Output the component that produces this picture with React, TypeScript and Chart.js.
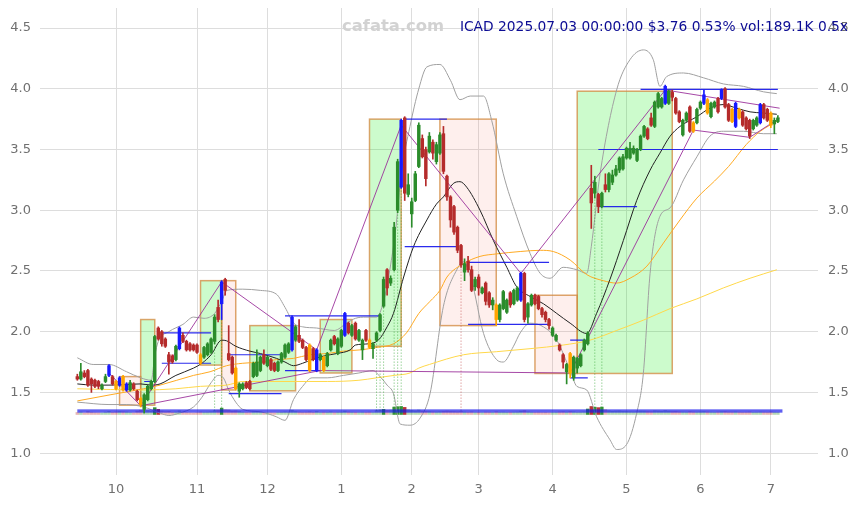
import React, { useEffect, useRef } from 'react';
import { Chart, registerables } from 'chart.js';
Chart.register(...registerables);

// ---- daily candles (index 0 = 2024-09-16 ... 199 = 2025-07-03) ----
const open = [
  1.63,1.61,1.66,1.68,1.61,1.60,1.59,1.53,1.59,1.64,
  1.63,1.59,1.56,1.63,1.52,1.52,1.57,1.51,1.45,1.36,
  1.44,1.53,1.59,2.03,2.00,1.94,1.81,1.80,1.77,1.86,
  1.97,1.92,1.90,1.89,1.89,1.81,1.79,1.81,1.83,1.92,
  2.20,2.23,2.43,1.82,1.79,1.70,1.51,1.53,1.58,1.59,
  1.63,1.64,1.68,1.81,1.72,1.77,1.74,1.68,1.75,1.79,
  1.83,1.85,1.93,1.97,1.93,1.87,1.89,1.86,1.68,1.77,
  1.79,1.72,1.85,1.96,1.82,1.88,1.97,2.07,1.97,2.07,
  1.93,1.85,2.01,1.93,1.86,1.93,2.01,2.21,2.51,2.40,
  2.51,3.00,3.19,3.76,3.13,2.97,3.08,3.36,3.59,3.50,
  3.48,3.56,3.40,3.47,3.63,3.28,3.11,3.03,2.86,2.71,
  2.49,2.58,2.51,2.37,2.45,2.32,2.40,2.32,2.22,2.22,
  2.10,2.19,2.16,2.32,2.23,2.26,2.26,2.48,2.12,2.22,
  2.30,2.29,2.19,2.16,2.10,1.97,1.93,1.89,1.81,1.67,
  1.82,1.62,1.70,1.72,1.85,1.90,3.18,3.14,3.13,3.03,
  3.21,3.17,3.23,3.29,3.33,3.34,3.43,3.43,3.47,3.41,
  3.50,3.61,3.67,3.76,3.69,3.85,3.85,3.88,3.88,3.97,
  3.92,3.81,3.62,3.74,3.85,3.72,3.72,3.84,3.88,3.91,
  3.77,3.85,3.92,3.92,4.00,3.87,3.83,3.69,3.83,3.81,
  3.76,3.74,3.67,3.70,3.72,3.87,3.83,3.80,3.71,3.73,
];
const close = [
  1.61,1.67,1.63,1.56,1.57,1.55,1.55,1.56,1.63,1.72,
  1.57,1.53,1.62,1.52,1.57,1.58,1.53,1.44,1.40,1.48,
  1.55,1.59,1.96,1.94,1.90,1.88,1.75,1.75,1.88,2.03,
  1.92,1.85,1.85,1.85,1.83,1.74,1.87,1.90,1.94,2.12,
  2.10,2.41,2.34,1.77,1.66,1.53,1.57,1.57,1.54,1.53,
  1.74,1.75,1.79,1.74,1.79,1.69,1.68,1.75,1.82,1.89,
  1.90,2.12,2.04,1.92,1.87,1.77,1.68,1.77,1.85,1.81,
  1.68,1.82,1.93,1.90,1.94,2.01,2.15,1.99,2.05,1.94,
  2.01,1.93,1.93,1.87,1.90,1.99,2.14,2.43,2.36,2.44,
  2.86,3.40,3.74,3.14,3.21,3.07,3.30,3.70,3.44,3.26,
  3.61,3.47,3.54,3.62,3.32,3.11,2.92,2.82,2.67,2.55,
  2.56,2.51,2.34,2.43,2.36,2.36,2.25,2.22,2.26,2.10,
  2.22,2.33,2.26,2.22,2.34,2.36,2.48,2.10,2.23,2.30,
  2.23,2.19,2.14,2.10,2.05,2.03,1.97,1.85,1.75,1.73,
  1.66,1.79,1.78,1.81,1.93,1.99,3.06,3.23,3.03,3.14,
  3.17,3.30,3.29,3.34,3.43,3.44,3.51,3.51,3.51,3.50,
  3.61,3.69,3.59,3.70,3.89,3.96,3.92,4.02,3.98,3.93,
  3.80,3.73,3.74,3.80,3.65,3.65,3.83,3.89,3.95,3.80,
  3.88,3.89,3.81,3.99,3.85,3.74,3.73,3.88,3.76,3.70,
  3.67,3.61,3.74,3.76,3.87,3.76,3.74,3.70,3.74,3.76,
];
const high = [
  1.65,1.74,1.68,1.69,1.62,1.61,1.60,1.57,1.65,1.73,
  1.64,1.60,1.63,1.64,1.58,1.60,1.58,1.52,1.46,1.49,
  1.56,1.60,1.97,2.04,2.01,1.95,1.83,1.81,1.89,2.04,
  1.99,1.93,1.91,1.90,1.90,1.82,1.88,1.91,1.95,2.14,
  2.26,2.42,2.44,2.05,1.80,1.71,1.58,1.58,1.59,1.60,
  1.75,1.85,1.80,1.85,1.80,1.78,1.75,1.76,1.83,1.90,
  1.91,2.13,2.05,2.10,1.94,1.88,1.90,1.87,1.86,1.82,
  1.80,1.83,1.94,1.97,1.95,2.02,2.16,2.08,2.06,2.08,
  2.02,1.94,2.02,1.94,1.91,2.00,2.15,2.45,2.52,2.46,
  2.90,3.42,3.75,3.77,3.30,3.10,3.32,3.72,3.62,3.52,
  3.64,3.58,3.56,3.64,3.69,3.29,3.12,3.04,2.87,2.72,
  2.60,2.62,2.54,2.45,2.47,2.37,2.41,2.33,2.28,2.23,
  2.23,2.34,2.27,2.33,2.35,2.37,2.49,2.49,2.24,2.31,
  2.31,2.30,2.20,2.17,2.11,2.04,1.98,1.90,1.82,1.74,
  1.83,1.80,1.79,1.82,1.94,2.00,3.37,3.28,3.14,3.15,
  3.30,3.31,3.33,3.37,3.44,3.46,3.52,3.56,3.53,3.51,
  3.62,3.70,3.68,3.80,3.90,3.97,3.93,4.03,3.99,3.99,
  3.93,3.82,3.75,3.81,3.86,3.73,3.84,3.90,3.99,3.92,
  3.89,3.90,3.93,4.00,4.01,3.88,3.84,3.89,3.84,3.82,
  3.77,3.75,3.75,3.77,3.88,3.88,3.84,3.81,3.76,3.78,
];
const low = [
  1.60,1.60,1.62,1.55,1.50,1.54,1.53,1.52,1.58,1.63,
  1.56,1.52,1.55,1.51,1.51,1.51,1.52,1.43,1.38,1.33,
  1.43,1.52,1.58,1.93,1.88,1.87,1.65,1.74,1.76,1.85,
  1.91,1.84,1.84,1.84,1.82,1.73,1.78,1.80,1.82,1.90,
  2.08,2.10,2.30,1.76,1.65,1.52,1.46,1.52,1.53,1.52,
  1.62,1.63,1.67,1.73,1.71,1.68,1.67,1.67,1.74,1.78,
  1.82,1.84,1.92,1.91,1.86,1.76,1.67,1.76,1.67,1.76,
  1.67,1.71,1.84,1.89,1.81,1.87,1.96,1.98,1.96,1.93,
  1.92,1.77,1.92,1.86,1.78,1.92,2.00,2.20,2.30,2.38,
  2.50,2.98,3.18,3.08,3.11,2.86,3.07,3.35,3.43,3.20,
  3.47,3.42,3.38,3.46,3.30,3.08,2.86,2.80,2.65,2.53,
  2.42,2.49,2.33,2.34,2.30,2.31,2.22,2.20,2.18,2.05,
  2.08,2.18,2.15,2.20,2.22,2.25,2.25,2.08,2.07,2.21,
  2.22,2.18,2.12,2.08,2.02,1.96,1.92,1.84,1.70,1.57,
  1.62,1.60,1.66,1.71,1.84,1.89,2.85,3.10,2.98,3.02,
  3.15,3.15,3.21,3.28,3.31,3.33,3.42,3.42,3.46,3.40,
  3.49,3.60,3.58,3.69,3.68,3.84,3.84,3.87,3.87,3.90,
  3.79,3.72,3.61,3.73,3.64,3.64,3.71,3.83,3.87,3.79,
  3.76,3.84,3.80,3.91,3.84,3.73,3.72,3.68,3.75,3.69,
  3.66,3.59,3.66,3.69,3.71,3.75,3.73,3.68,3.63,3.72,
];
// volume in thousands of shares
const volume = [
  180,220,150,260,200,170,160,150,210,280,
  200,230,260,240,220,180,160,300,380,420,
  350,300,600,450,300,250,280,200,220,320,
  200,180,160,150,170,220,200,210,240,350,
  380,560,420,400,300,320,260,200,180,170,
  220,240,200,190,180,170,160,180,200,230,
  210,380,260,220,200,210,240,200,260,180,
  200,190,230,180,200,210,300,220,200,190,
  180,200,190,210,180,380,420,450,380,400,
  650,680,700,620,420,360,320,400,300,280,
  260,240,230,250,280,300,270,260,240,280,
  220,200,230,180,190,170,210,200,180,240,
  200,210,190,200,210,220,300,340,230,200,
  190,200,180,190,170,180,200,230,250,220,
  260,240,200,210,230,480,700,640,600,650,
  420,320,280,300,310,280,270,250,240,260,
  300,290,260,250,320,300,280,340,290,260,
  280,240,230,220,260,230,220,240,260,230,
  210,200,220,250,260,230,220,240,210,200,
  210,230,190,200,220,210,200,230,200,189,
];
// signal candles
const blueIdx = [9,12,14,29,41,61,68,76,92,126,167,178,183,187,194];
const orangeIdx = [11,13,18,35,45,66,70,83,119,140,175,179,186,188,197];
const sigUpIdx = [39,41,85,86,87,90,91,92,147,149];
const sigDownIdx = [109];

// axis ticks
const monthTickIdx = [11,34,54,75,95,114,135,156,177,197];
const monthLabels = ['10','11','12','1','2','3','4','5','6','7'];
const priceTicks = [1.0,1.5,2.0,2.5,3.0,3.5,4.0,4.5];

// indicator lines: [index, value]
const sma20: [number, number][] = [[0,1.57],[4.5,1.56],[9,1.56],[14,1.565],[18,1.57],[21,1.56],[23.5,1.57],[28,1.64],[33,1.70],[35.4,1.74],[38,1.81],[41,1.93],[42.4,1.925],[45,1.88],[49,1.84],[52,1.82],[56.6,1.78],[59,1.75],[61.4,1.72],[64,1.74],[66.7,1.77],[70,1.80],[73.7,1.82],[77.5,1.85],[79,1.89],[82.7,1.90],[85.5,1.93],[88,2.04],[89.8,2.15],[92.7,2.45],[95.5,2.70],[99.3,2.92],[102,3.05],[104,3.11],[106.8,3.22],[108.7,3.235],[110.6,3.19],[114.4,3.00],[118.2,2.75],[122,2.53],[124.8,2.37],[128.6,2.29],[132.4,2.23],[136.2,2.15],[140,2.07],[144.7,1.985],[147.5,2.15],[151.3,2.43],[155.1,2.75],[158.9,3.08],[162.7,3.33],[165.5,3.47],[168.4,3.61],[171.2,3.69],[176,3.77],[179.7,3.84],[183.5,3.87],[187.3,3.84],[191.1,3.81],[194.9,3.80],[198.7,3.79]];
const sma50: [number, number][] = [[0,1.43],[9.3,1.48],[18.8,1.53],[23.5,1.56],[33,1.64],[37.7,1.67],[42.4,1.72],[47,1.74],[52,1.75],[56.6,1.77],[61.4,1.78],[66,1.81],[71,1.82],[75.6,1.84],[80.3,1.85],[85,1.87],[89.8,1.90],[93.5,1.99],[97,2.15],[100.2,2.25],[103,2.34],[105,2.45],[109.7,2.56],[114.4,2.62],[119,2.64],[125.8,2.66],[131.5,2.67],[135.2,2.66],[140,2.59],[144.7,2.47],[149.4,2.42],[153.2,2.40],[157,2.44],[161.8,2.54],[166.5,2.73],[171.2,2.92],[176,3.10],[181,3.24],[185,3.36],[190,3.54],[194,3.65],[198.7,3.73]];
const sma100: [number, number][] = [[0,1.53],[18.8,1.52],[28,1.53],[35,1.55],[42.4,1.56],[47,1.59],[52,1.59],[61,1.59],[71,1.59],[80,1.60],[85,1.62],[90,1.64],[94.5,1.66],[97,1.70],[100,1.73],[109.7,1.81],[119,1.835],[128.6,1.86],[138,1.89],[145.6,1.93],[153.2,2.01],[160.8,2.095],[168.4,2.19],[176,2.27],[183.5,2.36],[191.1,2.44],[198.7,2.51]];
const bbUpper: [number, number][] = [[0,1.785],[4.5,1.73],[9,1.73],[14,1.67],[18,1.62],[21,1.60],[22,1.80],[23,1.92],[26,2.0],[30,2.06],[33,2.12],[36,2.11],[39,2.15],[41,2.25],[42.5,2.34],[47,2.35],[52,2.34],[56.5,2.31],[59,2.20],[61.5,2.07],[64,2.04],[68,2.03],[73,2.01],[76.5,2.07],[79,2.11],[82,2.12],[85,2.12],[87,2.25],[89,2.55],[90.5,2.86],[92,3.3],[94.5,3.69],[97,4.0],[99.3,4.18],[103,4.20],[106,4.07],[108.7,3.91],[111.6,3.94],[115.4,3.94],[117.7,3.74],[121,3.30],[124.8,2.95],[128.6,2.645],[131.5,2.48],[134.3,2.44],[138,2.53],[141.9,2.51],[144.7,2.48],[146,2.7],[148.5,3.30],[153.2,3.99],[157,4.24],[160.8,4.32],[163.6,4.24],[165.5,4.02],[167.4,4.10],[172.2,4.13],[177.9,4.09],[183.5,4.04],[189.2,4.02],[194.9,3.975],[198.7,3.96]];
const bbLower: [number, number][] = [[0,1.42],[9,1.40],[14,1.40],[18.8,1.38],[23.5,1.33],[26,1.31],[29,1.33],[33,1.38],[35.4,1.46],[38,1.58],[40,1.64],[41.5,1.62],[43,1.52],[45,1.42],[47,1.36],[52,1.34],[56.5,1.30],[59,1.27],[61.4,1.44],[64,1.55],[66.7,1.62],[71,1.62],[75.6,1.64],[80,1.66],[84,1.68],[86,1.63],[88,1.56],[89.8,1.49],[91.7,1.24],[94.5,1.23],[97.4,1.29],[100.2,1.49],[104,2.21],[107.8,2.51],[109.7,2.575],[112,2.42],[115.4,1.985],[119.1,1.77],[121,1.75],[123.9,1.88],[125.8,1.99],[128.6,2.07],[132.4,2.04],[136.2,1.93],[140,1.68],[141.9,1.55],[144.7,1.52],[147.5,1.30],[151.3,1.11],[153.2,1.03],[156,1.07],[158.9,1.33],[160.8,1.66],[162.7,2.48],[165.5,2.95],[168.4,3.02],[172.2,3.25],[176,3.44],[179.7,3.61],[183.5,3.65],[189.2,3.65],[194.9,3.63],[198.7,3.63]];

// purple trend / zigzag lines
const zigMain: [number, number][] = [[9,1.66],[18,1.39],[41,2.41],[68,1.85],[92,3.70],[126,2.48],[167,3.99]];
const zigLow: [number, number][] = [[18,1.39],[69,1.68],[140,1.66],[175,3.66],[191,3.60],[199.5,3.76]];
const zigTop: [number, number][] = [[167,3.99],[199.5,3.84]];

// support / resistance segments
const levelStart = [19,24,24,43,43,59,59,93,93,111,111,140,140,148,148,160,0,0];
const levelEnd   = [22,38,38,58,58,86,69,105,108,134,134,145,145,159,199,199,200.3,200.3];
const levelValue = [1.59,1.99,1.74,1.81,1.49,2.13,1.68,3.75,2.70,2.57,2.06,1.93,1.62,3.03,3.50,3.995,1.354,1.340];

// boxes
const boxStart  = [12,18,35,41,49,69,83,103,130,142];
const boxEnd    = [18,22,41,45,62,78,92,119,142,169];
const boxTop    = [1.63,2.10,2.42,2.42,2.05,2.10,3.75,3.75,2.30,3.98];
const boxBottom = [1.395,1.395,1.725,1.52,1.513,1.66,1.88,2.05,1.656,1.656];
const boxKind   = ['down','up','up','down','up','up','up','down','down','up'];

const titleText = 'ICAD 2025.07.03 00:00:00 $3.76 0.53% vol:189.1K 0.5x';
const watermark = 'cafata.com';

const FONT = '"DejaVu Sans", "Noto Sans", sans-serif';

export default function App() {
  const ref = useRef<HTMLCanvasElement>(null);
  useEffect(() => {
    document.body.style.margin = '0';
    const canvas = ref.current;
    if (!canvas) return;
    const blueSet = new Set(blueIdx);
    const orangeSet = new Set(orangeIdx);
    const colorOf = (i: number) =>
      blueSet.has(i) ? '#1818ff' : orangeSet.has(i) ? '#ffa500' : close[i] >= open[i] ? '#2b8c2b' : '#b52b2b';
    const idx = open.map((_, i) => i);
    const toXY = (pts: [number, number][]) => pts.map(([x, y]) => ({ x, y }));
    const segs: any[] = [];
    levelStart.forEach((s, k) => {
      segs.push({ x: s, y: levelValue[k] }, { x: levelEnd[k], y: levelValue[k] }, { x: levelEnd[k], y: null });
    });
    const dots = (list: number[]) => {
      const out: any[] = [];
      list.forEach((i) => out.push({ x: i, y: 1.35 }, { x: i, y: low[i] }, { x: i, y: null }));
      return out;
    };
    const lineDs = (label: string, pts: [number, number][], color: string, order: number, smooth = true) => ({
      type: 'line' as const, label, data: toXY(pts), borderColor: color, borderWidth: 1,
      pointRadius: 0, fill: false, order, cubicInterpolationMode: smooth ? 'monotone' : 'default', tension: 0,
    });
    const fitV = (axis: any) => { axis.width = 40; axis.paddingTop = 0; axis.paddingBottom = 0; };

    const overlay = {
      id: 'overlay',
      beforeDatasetsDraw(chart: any) {
        const { ctx, scales } = chart;
        const xs = scales.x, ys = scales.y;
        ctx.save();
        boxStart.forEach((s, k) => {
          const x0 = xs.getPixelForValue(s), x1 = xs.getPixelForValue(boxEnd[k]);
          const y0 = ys.getPixelForValue(boxTop[k]), y1 = ys.getPixelForValue(boxBottom[k]);
          ctx.fillStyle = boxKind[k] === 'up' ? 'rgba(0,235,0,0.2)' : 'rgba(240,80,60,0.09)';
          ctx.fillRect(x0, y0, x1 - x0, y1 - y0);
          ctx.strokeStyle = 'rgba(210,135,60,0.75)';
          ctx.lineWidth = 1.5;
          ctx.strokeRect(x0, y0, x1 - x0, y1 - y0);
        });
        ctx.font = 'bold 16.4px ' + FONT;
        ctx.fillStyle = '#d2d2d2';
        ctx.textAlign = 'left';
        ctx.textBaseline = 'alphabetic';
        ctx.fillText(watermark, 342, 31);
        ctx.restore();
      },
      afterDraw(chart: any) {
        const ctx = chart.ctx;
        ctx.save();
        ctx.font = '13.8px ' + FONT;
        ctx.fillStyle = '#0c0c94';
        ctx.textAlign = 'right';
        ctx.textBaseline = 'alphabetic';
        ctx.fillText(titleText, 848, 31);
        ctx.restore();
      },
    };

    const chart = new Chart(canvas, {
      type: 'line',
      data: {
        datasets: [
          {
            type: 'bar', label: 'body',
            data: idx.map((i) => ({ x: i, y: [open[i], close[i]] })) as any,
            backgroundColor: idx.map(colorOf), borderWidth: 0, barThickness: 2.8, grouped: false, order: 1,
          } as any,
          {
            type: 'bar', label: 'wick',
            data: idx.map((i) => ({ x: i, y: [low[i], high[i]] })) as any,
            backgroundColor: idx.map(colorOf), borderWidth: 0, barThickness: 1, grouped: false, order: 2,
          } as any,
          {
            type: 'line', label: 'zigMain', data: toXY(zigMain), borderColor: 'rgba(150,40,150,0.85)', borderWidth: 1, pointRadius: 0, order: 3,
          },
          {
            type: 'line', label: 'zigLow', data: toXY(zigLow), borderColor: 'rgba(150,40,150,0.85)', borderWidth: 1, pointRadius: 0, order: 3,
          },
          {
            type: 'line', label: 'zigTop', data: toXY(zigTop), borderColor: 'rgba(150,40,150,0.85)', borderWidth: 1, pointRadius: 0, order: 3,
          },
          {
            type: 'line', label: 'levels', data: segs, borderColor: 'rgba(20,20,235,0.9)', borderWidth: 1.2, pointRadius: 0, spanGaps: false, order: 4,
          },
          {
            type: 'line', label: 'sigUp', data: dots(sigUpIdx), borderColor: 'rgba(40,160,40,0.7)', borderWidth: 1, borderDash: [1, 2], pointRadius: 0, spanGaps: false, order: 4,
          },
          {
            type: 'line', label: 'sigDown', data: dots(sigDownIdx), borderColor: 'rgba(190,60,60,0.7)', borderWidth: 1, borderDash: [1, 2], pointRadius: 0, spanGaps: false, order: 4,
          },
          lineDs('sma20', sma20, '#222222', 5),
          lineDs('sma50', sma50, '#ffaa22', 6),
          lineDs('sma100', sma100, '#ffd84a', 6),
          lineDs('bbUpper', bbUpper, '#a0a0a0', 6),
          lineDs('bbLower', bbLower, '#a0a0a0', 6),
          {
            type: 'bar', label: 'volume', yAxisID: 'yv',
            data: idx.map((i) => ({ x: i, y: volume[i] })) as any,
            backgroundColor: idx.map((i) => {
              const up = close[i] >= open[i];
              const strong = volume[i] >= 450;
              return up ? (strong ? 'rgba(43,140,43,0.95)' : 'rgba(43,140,43,0.35)') : (strong ? 'rgba(181,43,43,0.95)' : 'rgba(181,43,43,0.35)');
            }),
            borderWidth: 0, barThickness: 2.8, grouped: false, order: 10,
          } as any,
        ],
      },
      options: {
        responsive: false,
        animation: false,
        events: [],
        layout: { padding: { top: 8, left: 0, right: 0, bottom: 0 } },
        plugins: { legend: { display: false }, tooltip: { enabled: false }, title: { display: false } },
        scales: {
          x: {
            type: 'linear', min: -10.6, max: 210.4, offset: false,
            grid: { color: '#dddddd', drawTicks: false, lineWidth: 1, offset: false },
            border: { display: false },
            afterBuildTicks: (axis: any) => { axis.ticks = monthTickIdx.map((v) => ({ value: v })); },
            afterFit: (axis: any) => { axis.height = 30; axis.paddingLeft = 0; axis.paddingRight = 0; },
            ticks: {
              padding: 7, color: '#707070', font: { family: FONT, size: 13 }, maxRotation: 0, autoSkip: false,
              callback: (v: any) => { const k = monthTickIdx.indexOf(Number(v)); return k >= 0 ? monthLabels[k] : ''; },
            },
          },
          y: {
            type: 'linear', position: 'left', min: 0.82, max: 4.665,
            grid: { color: '#dddddd', drawTicks: false, lineWidth: 1, offset: false },
            border: { display: false },
            afterBuildTicks: (axis: any) => { axis.ticks = priceTicks.map((v) => ({ value: v })); },
            afterFit: fitV,
            ticks: { padding: 9, color: '#707070', font: { family: FONT, size: 13 }, callback: (v: any) => Number(v).toFixed(1) },
          },
          y2: {
            type: 'linear', position: 'right', min: 0.82, max: 4.665,
            grid: { display: false, drawTicks: false },
            border: { display: false },
            afterBuildTicks: (axis: any) => { axis.ticks = priceTicks.map((v) => ({ value: v })); },
            afterFit: fitV,
            ticks: { padding: 10, color: '#707070', font: { family: FONT, size: 13 }, callback: (v: any) => Number(v).toFixed(1) },
          },
          yv: {
            type: 'linear', display: false, min: -5300, max: 35600,
          },
        },
      } as any,
      plugins: [overlay],
    });
    return () => chart.destroy();
  }, []);
  return <canvas ref={ref} width={858} height={505} style={{ display: 'block' }} />;
}
